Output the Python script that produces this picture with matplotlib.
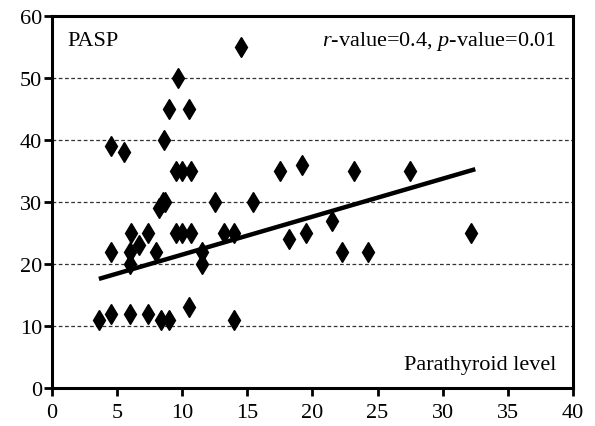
import matplotlib.pyplot as plt

plt.rcParams['font.family'] = ['Liberation Serif', 'DejaVu Serif']
plt.rcParams['mathtext.fontset'] = 'custom'
plt.rcParams['mathtext.rm'] = 'Liberation Serif'
plt.rcParams['mathtext.it'] = 'Liberation Serif:italic'

# parathyroid level vs PASP
parathyroid = [3.6, 4.5, 4.5, 4.5, 5.5, 6.0, 6.0, 6.0, 6.1, 6.7,
               7.4, 7.4, 8.0, 8.2, 8.5, 8.4, 8.7, 8.6, 9.0, 9.0,
               9.5, 9.5, 9.7, 10.0, 10.0, 10.5, 10.5, 10.7, 10.7, 11.5,
               11.5, 12.5, 13.2, 14.0, 14.0, 14.5, 15.4, 17.5, 18.2, 19.2,
               19.5, 21.5, 22.3, 23.2, 24.3, 27.5, 32.2]
pasp = [11, 39, 22, 12, 38, 12, 22, 20, 25, 23,
        25, 12, 22, 29, 30, 11, 30, 40, 45, 11,
        25, 35, 50, 35, 25, 45, 13, 35, 25, 22,
        20, 30, 25, 25, 11, 55, 30, 35, 24, 36,
        25, 27, 22, 35, 22, 35, 25]

# regression line end points
fit_x = [3.6, 32.5]
fit_y = [17.6, 35.3]

xticks = [0, 5, 10, 15, 20, 25, 30, 35, 40]
yticks = [0, 10, 20, 30, 40, 50, 60]

fig = plt.figure(figsize=(5.95, 4.27), dpi=100)
ax = fig.add_axes([0.0874, 0.089, 0.8756, 0.871])

for y in yticks[1:-1]:
    ax.axhline(y, color='#333333', lw=0.9, ls=(0, (3, 2)), zorder=1)

ax.plot(parathyroid, pasp, ls='none', marker='d', ms=10, mew=1.0, color='black', zorder=3)
ax.plot(fit_x, fit_y, color='black', lw=3.2, solid_capstyle='butt', zorder=4)

ax.set_xlim(0, 40)
ax.set_ylim(0, 60)
ax.set_xticks(xticks)
ax.set_yticks(yticks)
ax.tick_params(direction='out', length=6, width=2, labelsize=16)
ax.tick_params(axis='x', pad=5)
ax.tick_params(axis='y', pad=1)
for s in ax.spines.values():
    s.set_linewidth(2.2)

ax.text(0.03, 0.933, 'PASP', transform=ax.transAxes, fontsize=16, va='center', ha='left')
ax.text(0.969, 0.933, '$r$-value=0.4, $p$-value=0.01', transform=ax.transAxes,
        fontsize=16, va='center', ha='right')
ax.text(0.969, 0.062, 'Parathyroid level', transform=ax.transAxes, fontsize=16,
        va='center', ha='right')

fig.savefig('out.png', dpi=100)
